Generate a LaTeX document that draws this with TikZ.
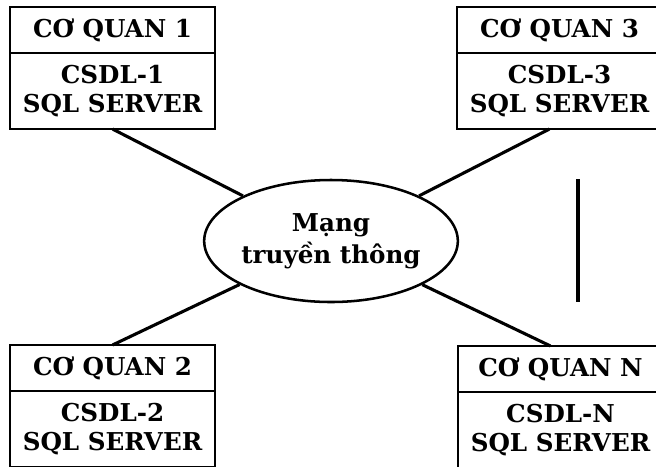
\documentclass[tikz,border=0pt]{standalone}
\usepackage{fontspec}
\setmainfont{DejaVu Serif}
\usetikzlibrary{positioning,shapes.geometric}

\begin{document}
\begin{tikzpicture}[
    head/.style={draw,line width=1.6pt,outer sep=0pt,inner sep=0pt,minimum width=5.125cm,minimum height=1.15cm,font=\fontsize{17.5}{20}\selectfont\bfseries},
    base/.style={draw,line width=1.6pt,outer sep=0pt,inner sep=0pt,minimum width=5.125cm,minimum height=1.9cm,align=center,font=\fontsize{17.5}{20.5}\selectfont\bfseries},
    link/.style={line width=2.2pt}
]
    \useasboundingbox (0,0) rectangle (16.4,-11.65);

    % Network
    \node[draw,ellipse,line width=1.8pt,inner sep=0pt,minimum width=6.3cm,minimum height=3.05cm,align=center,font=\fontsize{17.5}{23}\selectfont\bfseries] (net) at (8.275,-6.025) {Mạng\\truyền thông};

    % Co quan 1
    \node[head,anchor=north west] (cq1) at (0.25,-0.175) {CƠ QUAN 1};
    \node[base,below=0pt of cq1] (db1) {CSDL-1\\SQL SERVER};

    % Co quan 3
    \node[head,anchor=north west] (cq3) at (11.425,-0.175) {CƠ QUAN 3};
    \node[base,below=0pt of cq3] (db3) {CSDL-3\\SQL SERVER};

    % Co quan 2
    \node[head,anchor=north west] (cq2) at (0.25,-8.625) {CƠ QUAN 2};
    \node[base,below=0pt of cq2] (db2) {CSDL-2\\SQL SERVER};

    % Co quan N
    \node[head,anchor=north west] (cqN) at (11.45,-8.65) {CƠ QUAN N};
    \node[base,below=0pt of cqN] (dbN) {CSDL-N\\SQL SERVER};

    % Links
    \draw[link] (db1.south) -- (net);
    \draw[link] ([xshift=-0.25cm]db3.south) -- (net);
    \draw[link] (cq2.north) -- (net);
    \draw[link] ([xshift=-0.25cm]cqN.north) -- (net);

    % Dots between 3 and N
    \coordinate (v1) at (14.45,-4.475);
    \coordinate (v2) at (14.45,-7.55);
    \draw[link] (v1) -- (v2);
\end{tikzpicture}
\end{document}
